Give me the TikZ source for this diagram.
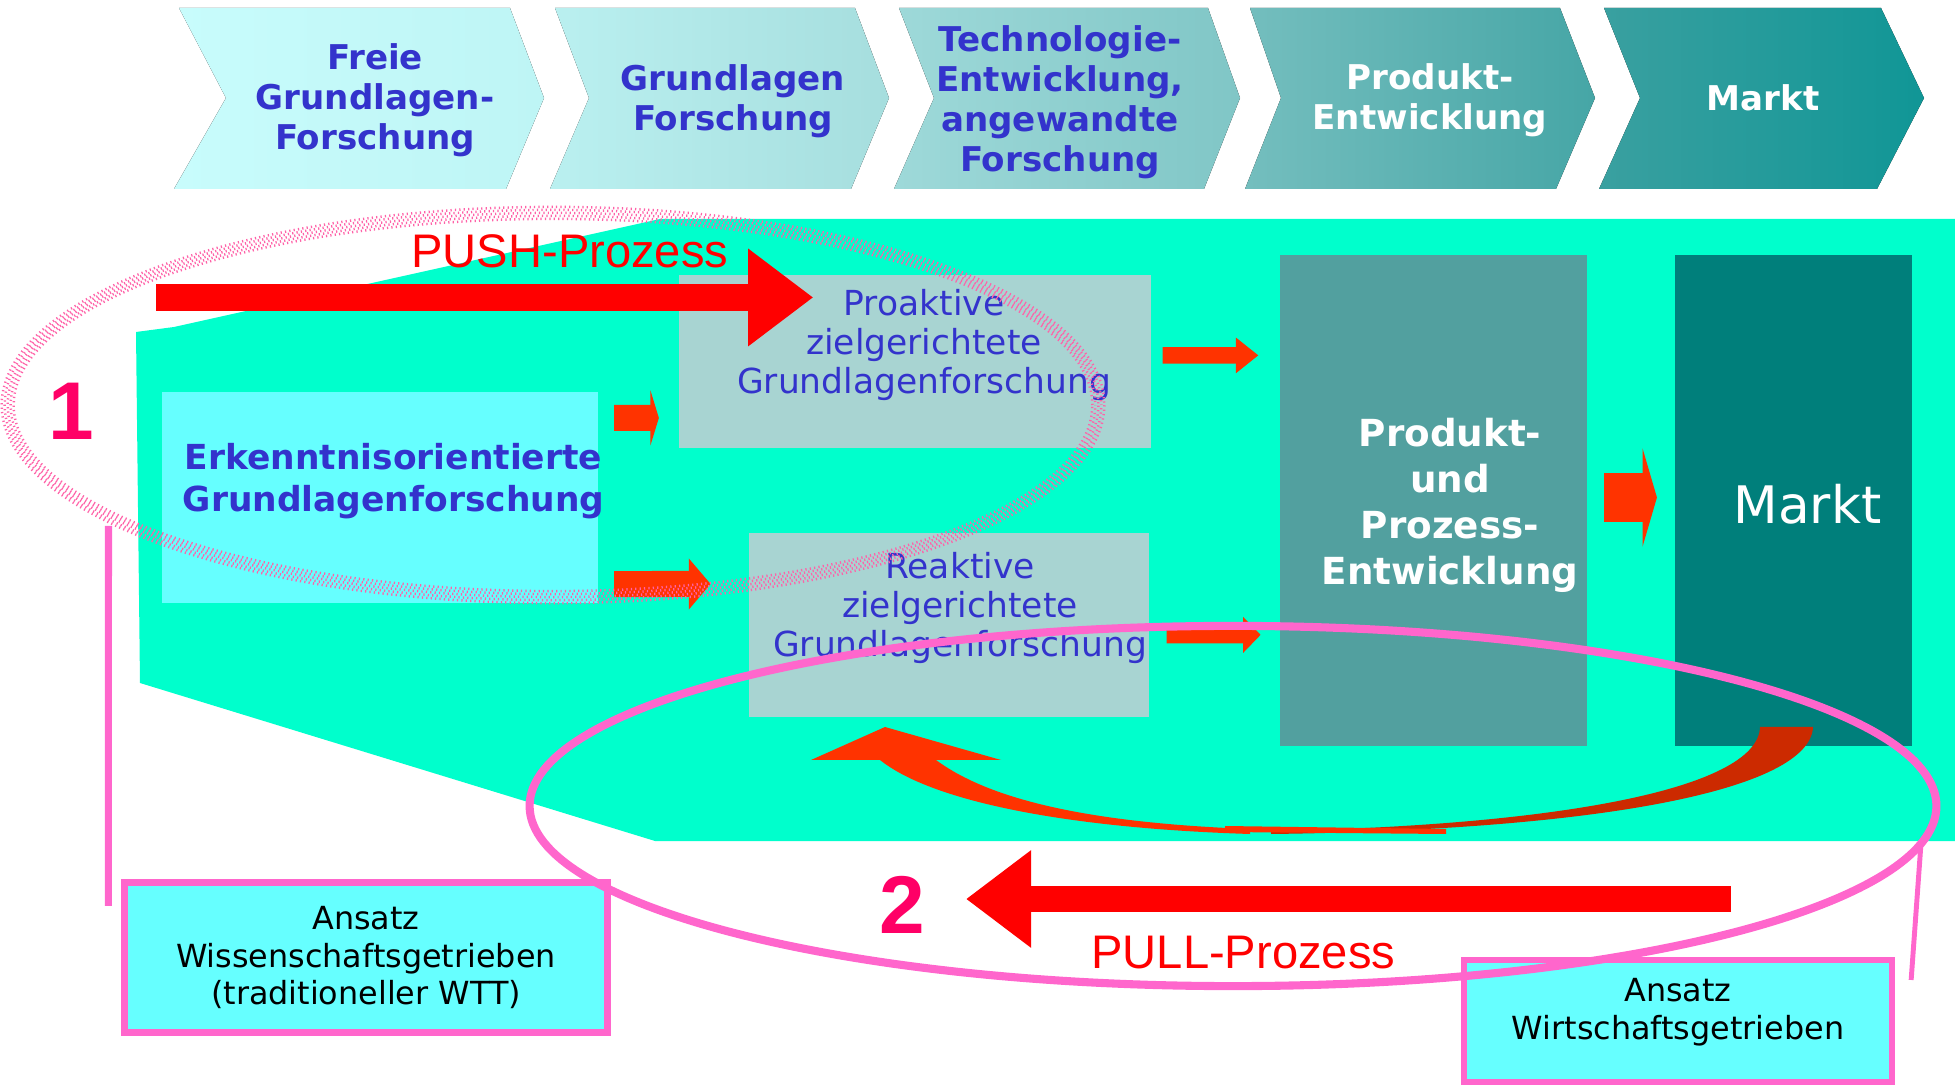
\documentclass[tikz,border=0pt]{standalone}
\usepackage{fontspec}
\setmainfont{DejaVu Sans}
\newfontfamily\arialfont{Liberation Sans}
\usetikzlibrary{arrows.meta,positioning}

\definecolor{greenbg}{HTML}{00FFCC}
\definecolor{erkfill}{HTML}{66FFFF}
\definecolor{profill}{HTML}{A8D4D2}
\definecolor{pdefill}{HTML}{52A09F}
\definecolor{mktfill}{HTML}{007F7B}
\definecolor{txtblue}{HTML}{3333CC}
\definecolor{arrowred}{HTML}{FF3300}
\definecolor{darkred}{HTML}{CC2A00}
\definecolor{bigred}{HTML}{FF0000}
\definecolor{pinkline}{HTML}{FF66CC}
\definecolor{numpink}{HTML}{FF0066}
\definecolor{spraypink}{HTML}{FF62A8}
\definecolor{chA1}{HTML}{C8FCFC}\definecolor{chB1}{HTML}{BEF5F5}
\definecolor{chA2}{HTML}{BAF0F0}\definecolor{chB2}{HTML}{A6DEDE}
\definecolor{chA3}{HTML}{9ED9D9}\definecolor{chB3}{HTML}{80C6C6}
\definecolor{chA4}{HTML}{74BEBE}\definecolor{chB4}{HTML}{46A6A6}
\definecolor{chA5}{HTML}{3AA0A0}\definecolor{chB5}{HTML}{109696}

\tikzset{
  chevtext/.style={align=center, font=\fontsize{9.7pt}{11.4pt}\selectfont\bfseries},
  fillbox/.style={rectangle, inner sep=0pt, outer sep=0pt, draw=none},
  erktext/.style={align=center, text=txtblue, font=\fontsize{9.8pt}{11.95pt}\selectfont\bfseries},
  zieltext/.style={align=center, text=txtblue, font=\fontsize{9.8pt}{11.2pt}\selectfont},
  pdetext/.style={align=center, text=white, font=\fontsize{10.6pt}{13.1pt}\selectfont\bfseries},
  ansatzbox/.style={rectangle, draw=pinkline, line width=2pt, fill=erkfill, inner sep=0pt,
    outer sep=0pt, align=center, font=\fontsize{9.05pt}{10.7pt}\selectfont},
  ansatztext/.style={align=center, font=\fontsize{9.05pt}{10.7pt}\selectfont},
  proclabel/.style={text=bigred, font=\arialfont\fontsize{13.4pt}{16pt}\selectfont},
  numlabel/.style={text=numpink, font=\arialfont\bfseries\fontsize{23.3pt}{28pt}\selectfont},
  smallarrow/.style={draw=arrowred},
  bigarrow/.style={draw=bigred, line width=7.6pt, -{Triangle[length=18.5pt,width=26.5pt]}},
}

\begin{document}
\begin{tikzpicture}[x=0.01cm, y=-0.01cm]
\useasboundingbox (0,0) rectangle (1955,1086);

% phase chevrons
\foreach \xa/\xb/\nt/\tp/\cl/\cr in {179/510/47/34/chA1/chB1, 555/855/34/34/chA2/chB2,
    899/1208/35/32/chA3/chB3, 1250/1560/31/35/chA4/chB4, 1604/1881/36/43/chA5/chB5}
  \fill[left color=\cl, right color=\cr]
    (\xa,8) -- (\xb,8) -- (\xb+\tp,98) -- (\xb-4,189) -- (\xa-5,189) -- (\xa+\nt,98) -- cycle;
\node[chevtext, text=txtblue] (ch1) at (375,100) {Freie\\Grundlagen-\\Forschung};
\node[chevtext, text=txtblue] (ch2) at (733,101) {Grundlagen\\Forschung};
\node[chevtext, text=txtblue] (ch3) at (1060,102) {Technologie-\\Entwicklung,\\angewandte\\Forschung};
\node[chevtext, text=white] (ch4) at (1430,100) {Produkt-\\Entwicklung};
\node[chevtext, text=white] (ch5) at (1763,98) {Markt};

% green area
\fill[greenbg] (136,332) -- (174,327) -- (660,219) -- (1955,219) -- (1955,841)
  -- (655,841) -- (140,683) -- cycle;

% boxes
\node[fillbox, fill=erkfill, minimum width=4.36cm, minimum height=2.11cm,
  label={[erktext, xshift=0.135cm, yshift=0.165cm]center:Erkenntnisorientierte\\Grundlagenforschung}]
  (erk) at (380,497.5) {};
\node[fillbox, fill=profill, minimum width=4.72cm, minimum height=1.73cm,
  label={[zieltext, xshift=0.09cm, yshift=0.165cm]center:Proaktive\\zielgerichtete\\Grundlagenforschung}]
  (pro) at (915,361.5) {};
\node[fillbox, fill=profill, minimum width=4.0cm, minimum height=1.84cm,
  label={[zieltext, xshift=0.11cm, yshift=0.17cm]center:Reaktive\\zielgerichtete\\Grundlagenforschung}]
  (rea) at (949,625) {};
\node[fillbox, fill=pdefill, minimum width=3.07cm, minimum height=4.91cm,
  label={[pdetext, xshift=0.165cm, yshift=-0.045cm]center:Produkt-\\und\\Prozess-\\Entwicklung}]
  (pde) at (1433.5,500.5) {};
\node[fillbox, fill=mktfill, minimum width=2.37cm, minimum height=4.91cm,
  label={[text=white, font=\fontsize{14.7pt}{17pt}\selectfont, xshift=0.14cm, yshift=-0.035cm]center:Markt}]
  (mkt) at (1793.5,500.5) {};

% small arrows
\draw[smallarrow, line width=7.4pt, -{Triangle[length=2.4pt,width=15.6pt]}]
  ([shift={(16,26)}]erk.north east) -- ([shift={(-20,143)}]pro.north west);
\draw[smallarrow, line width=7.4pt, -{Triangle[length=6.2pt,width=14.2pt]}]
  ([shift={(16,-19)}]erk.south east) -- ([shift={(-38.3,51)}]rea.north west);
\draw[smallarrow, line width=4.7pt, -{Triangle[length=6.4pt,width=9.7pt]}]
  ([shift={(11.5,80.5)}]pro.north east) -- ([shift={(-21.5,100.5)}]pde.north west);
\draw[smallarrow, line width=4.8pt, -{Triangle[length=5pt,width=10pt]}]
  ([shift={(17.5,102)}]rea.north east) -- ([shift={(-19.3,380)}]pde.north west);
\draw[smallarrow, line width=14.1pt, -{Triangle[length=4.1pt,width=27.9pt]}]
  ([shift={(17,-3)}]pde.east) -- ([shift={(-18,-3)}]mkt.west);

% return arrow from market
\fill[arrowred] (880,760) .. controls (930,800) and (1060,828) .. (1250,834)
  -- (1250,829) .. controls (1090,823) and (990,800) .. (936,760) -- cycle;
\fill[arrowred] (811,760) -- (885,727) -- (1001,760) -- cycle;
\fill[darkred] (1813,727) .. controls (1810,790) and (1600,830) .. (1271,834)
  -- (1271,831) .. controls (1550,826) and (1758,790) .. (1760,727) -- cycle;
\fill[arrowred] (1225,826) -- (1446,829) -- (1446,834) -- (1225,832) -- cycle;

% push and pull
\coordinate (pushstart) at (156,297.5);
\draw[bigarrow] (pushstart) -- ([shift={(134.4,22.5)}]pro.north west);
\node[proclabel, anchor=base west] (pushlbl) at (399,268) {PUSH-Prozess};
\coordinate (pullstart) at (1731,899);
\coordinate (pullend) at (966,899);
\draw[bigarrow] (pullstart) -- (pullend);
\node[proclabel, anchor=base west] (pulllbl) at (1079,968) {PULL-Prozess};

% approach boxes
\node[ansatzbox, minimum width=4.83cm, minimum height=1.5cm] (wiss) at (366,957.5)
  {Ansatz\\Wissenschaftsgetrieben\\(traditioneller WTT)};
\node[ansatzbox, line width=1.7pt, minimum width=4.28cm, minimum height=1.22cm,
  label={[ansatztext, yshift=0.09cm]center:Ansatz\\Wirtschaftsgetrieben}] (wirt) at (1678,1021) {};

% ellipses and numbers
\draw[pinkline, line width=2.3pt] (1233,806) ellipse [x radius=7.03cm, y radius=1.8cm];
\coordinate (e2r) at (1921,843);
\draw[pinkline, line width=1.4pt] (e2r) -- ([shift={(19,20)}]wirt.north east);
\foreach \rx/\ry/\ph in {5.39/1.86/0, 5.42/1.89/0.4, 5.45/1.92/0.8, 5.48/1.95/0.2, 5.51/1.98/0.6}
  \draw[spraypink, line width=0.7pt, dash pattern=on 0.35pt off 0.9pt, dash phase=\ph pt]
    (553,405) ellipse [x radius=\rx cm, y radius=\ry cm];
\coordinate (e1l) at (108.5,526);
\draw[pinkline, line width=2pt] (e1l) -- ([shift={(-16,23.5)}]wiss.north west);
\node[numlabel] (num1) at (71,411) {1};
\node[numlabel] (num2) at (902,905) {2};
\end{tikzpicture}
\end{document}
